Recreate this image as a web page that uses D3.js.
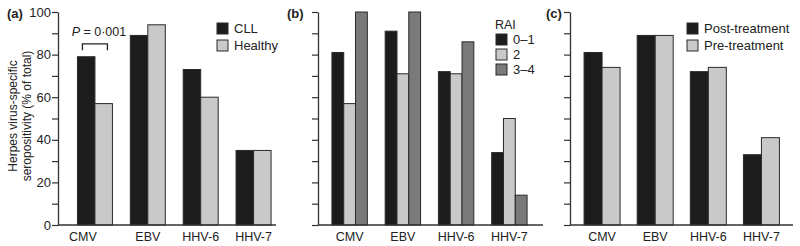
<!DOCTYPE html>
<html lang="en">
<head>
<meta charset="UTF-8">
<title>Herpes virus seropositivity</title>
<script src="https://d3js.org/d3.v7.min.js"></script>
<style>
  body { margin: 0; background: #fff; }
  text { font-family: "Liberation Sans", Arial, sans-serif; fill: #222; }
</style>
</head>
<body>
<svg width="800" height="246"></svg>
<script>
// categories shared by all three panels
const viruses = ["CMV", "EBV", "HHV-6", "HHV-7"];
const yTicks = [0, 10, 20, 30, 40, 50, 60, 70, 80, 90, 100];

// panel (a)
const seriesA = ["CLL", "Healthy"];
const cll = [79, 89, 73, 35];
const healthy = [57, 94, 60, 35];

// panel (b) - RAI stage
const seriesB = ["0–1", "2", "3–4"];
const rai01 = [81, 91, 72, 34];
const rai2 = [57, 71, 71, 50];
const rai34 = [100, 100, 86, 14];

// panel (c)
const seriesC = ["Post-treatment", "Pre-treatment"];
const post = [81, 89, 72, 33];
const pre = [74, 89, 74, 41];

const svg = d3.select("svg");
const y = d3.scaleLinear().domain([0, 100]).range([225, 12]);

function drawPanel(p) {
    const g = svg.append("g");
    const x = d3.scaleBand().domain(viruses).range(p.band);
    const inner = d3.scaleBand().domain(p.series).range([-p.barW * p.series.length / 2, p.barW * p.series.length / 2]);
    const color = d3.scaleOrdinal().domain(p.series).range(p.colors);

    // y axis
    const ax = g.append("g")
        .attr("transform", `translate(${p.axisX},0)`)
        .call(d3.axisLeft(y).tickValues(yTicks).tickSize(6).tickSizeOuter(0)
            .tickFormat(d => (p.labels && d % 20 === 0) ? d : ""));
    ax.select(".domain").attr("stroke", "#333").attr("stroke-width", 1.3);
    ax.selectAll(".tick line").attr("stroke", "#333").attr("stroke-width", 1.2);
    ax.selectAll(".tick text").attr("font-size", 13).attr("x", -7).style("fill", "#222")
        .style("font-family", null);

    // bars
    p.series.forEach((s, si) => {
        g.selectAll(null)
            .data(p.values[si])
            .enter().append("rect")
            .attr("x", (d, i) => x(viruses[i]) + x.bandwidth() / 2 + inner(s))
            .attr("y", d => y(d))
            .attr("width", inner.bandwidth())
            .attr("height", d => y(0) - y(d))
            .attr("fill", color(s))
            .attr("stroke", "#2a2a2a")
            .attr("stroke-width", 1);
    });

    // x axis line
    g.append("line")
        .attr("x1", p.axisX).attr("x2", p.axisEnd)
        .attr("y1", y(0)).attr("y2", y(0))
        .attr("stroke", "#333").attr("stroke-width", 1.3);

    g.selectAll(".xl")
        .data(viruses)
        .enter().append("text")
        .attr("x", (d, i) => x(d) + x.bandwidth() / 2 + (p.labelShift ? p.labelShift[i] : 0))
        .attr("y", 241)
        .attr("text-anchor", "middle")
        .attr("font-size", 12.5)
        .text(d => d);

    // panel letter
    g.append("text")
        .attr("x", p.letterX).attr("y", 18)
        .attr("font-size", 13).attr("font-weight", "bold")
        .text(p.letter);

    // legend
    const lg = g.append("g").attr("transform", `translate(${p.legX},${p.legY})`);
    if (p.legTitle) {
        lg.append("text").attr("x", -1).attr("y", -5).attr("font-size", 12.5).text(p.legTitle);
    }
    p.series.forEach((s, si) => {
        lg.append("rect")
            .attr("x", 0).attr("y", si * p.legStep)
            .attr("width", 11).attr("height", 11)
            .attr("fill", color(s)).attr("stroke", "#2a2a2a");
        lg.append("text")
            .attr("x", 17).attr("y", si * p.legStep + 10)
            .attr("font-size", 13).text(s);
    });
    return { g, x };
}

const a = drawPanel({
    letter: "(a)", letterX: 7, labels: true,
    axisX: 58, axisEnd: 276, band: [68.5, 280], barW: 17.5,
    series: seriesA, values: [cll, healthy], colors: ["#1c1c1c", "#c9c9c9"],
    legX: 217, legY: 23, legStep: 17, labelShift: [-12, 0, 0, 0]
});
drawPanel({
    letter: "(b)", letterX: 287,
    axisX: 318, axisEnd: 543, band: [323, 536], barW: 11.8,
    series: seriesB, values: [rai01, rai2, rai34], colors: ["#1c1c1c", "#c9c9c9", "#7a7a7a"],
    legX: 496, legY: 34, legStep: 15, legTitle: "RAI"
});
drawPanel({
    letter: "(c)", letterX: 546,
    axisX: 570, axisEnd: 793, band: [575.5, 788], barW: 18,
    series: seriesC, values: [post, pre], colors: ["#1c1c1c", "#c9c9c9"],
    legX: 687, legY: 23, legStep: 17
});

// y axis title
const yt = svg.append("text")
    .attr("transform", "translate(17,116) rotate(-90)")
    .attr("text-anchor", "middle")
    .attr("font-size", 12);
yt.append("tspan").attr("x", 0).attr("dy", 0).text("Herpes virus-specific");
yt.append("tspan").attr("x", 0).attr("dy", 13.5).text("seropositivity (% of total)");

// significance bracket over CMV in panel (a)
const cx = a.x("CMV") + a.x.bandwidth() / 2;
svg.append("path")
    .attr("d", `M${cx - 12.5},${y(82)} V${y(85)} H${cx + 12.5} V${y(82)}`)
    .attr("fill", "none").attr("stroke", "#222").attr("stroke-width", 1.3);
const pt = svg.append("text").attr("x", cx + 4).attr("y", 36)
    .attr("text-anchor", "middle").attr("font-size", 12.5);
pt.append("tspan").attr("font-style", "italic").text("P");
pt.append("tspan").text(" = 0·001");
</script>
</body>
</html>
